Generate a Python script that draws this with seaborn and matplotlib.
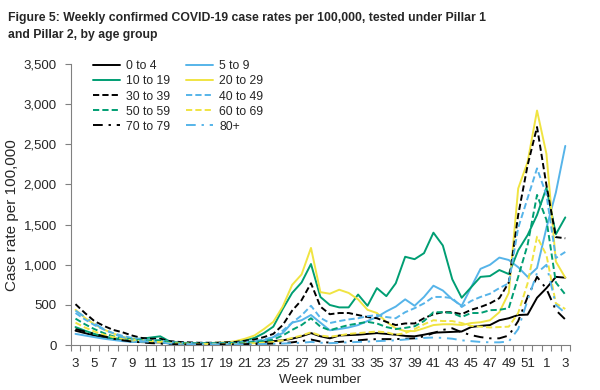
import numpy as np
import pandas as pd
import matplotlib
matplotlib.use('Agg')
import matplotlib.pyplot as plt
import seaborn as sns

# week numbers, 2021 week 3 to 2022 week 3
weeks = [3, 4, 5, 6, 7, 8, 9, 10, 11, 12,
         13, 14, 15, 16, 17, 18, 19, 20, 21, 22,
         23, 24, 25, 26, 27, 28, 29, 30, 31, 32,
         33, 34, 35, 36, 37, 38, 39, 40, 41, 42,
         43, 44, 45, 46, 47, 48, 49, 50, 51, 52,
         1, 2, 3]

age_0_4 = [180, 150, 120, 95, 75, 60, 45, 38, 35, 35,
           22, 20, 18, 18, 18, 18, 20, 22, 25, 30,
           40, 50, 60, 80, 110, 150, 110, 85, 120, 125,
           130, 140, 150, 140, 130, 115, 110, 130, 155, 160,
           165, 170, 225, 240, 250, 310, 335, 375, 380, 590,
           710, 850, 840]
age_5_9 = [140, 120, 100, 80, 65, 50, 40, 40, 45, 50,
           22, 18, 15, 15, 15, 15, 18, 20, 30, 40,
           60, 100, 150, 280, 310, 375, 280, 185, 200, 220,
           250, 300, 350, 420, 480, 570, 490, 600, 740, 680,
           570, 490, 720, 950, 1000, 1090, 1060, 970, 850, 960,
           1460, 1900, 2480]
age_10_19 = [225, 180, 140, 110, 85, 80, 80, 80, 95, 110,
             45, 30, 25, 25, 25, 25, 30, 40, 60, 90,
             150, 230, 450, 650, 780, 1010, 600, 500, 470, 470,
             630, 490, 710, 610, 770, 1100, 1070, 1145, 1400, 1240,
             820, 590, 720, 850, 860, 935, 885, 1180, 1370, 1620,
             1960, 1380, 1590]
age_20_29 = [440, 340, 260, 195, 145, 105, 75, 60, 55, 50,
             35, 30, 25, 25, 25, 30, 35, 50, 80, 120,
             200, 290, 480, 750, 880, 1210, 660, 640, 690, 650,
             570, 440, 400, 290, 210, 175, 175, 210, 250, 260,
             260, 250, 275, 285, 310, 410, 650, 1950, 2280, 2920,
             2380, 1040, 840]
age_30_39 = [510, 400, 300, 240, 190, 160, 120, 90, 80, 80,
             50, 40, 35, 30, 30, 30, 35, 40, 55, 70,
             100, 140, 250, 430, 560, 770, 480, 385, 400, 400,
             375, 350, 335, 290, 250, 270, 270, 335, 385, 410,
             410, 385, 440, 475, 520, 585, 780, 1620, 2240, 2715,
             1990, 1345, 1330]
age_40_49 = [400, 320, 250, 195, 150, 115, 90, 70, 60, 60,
             40, 30, 28, 25, 25, 25, 28, 30, 40, 50,
             70, 100, 180, 280, 370, 490, 340, 275, 300, 320,
             335, 360, 375, 350, 335, 410, 460, 520, 600, 600,
             585, 475, 550, 600, 640, 710, 770, 1460, 1830, 2200,
             1870, 1085, 1160]
age_50_59 = [330, 260, 200, 150, 110, 90, 70, 60, 55, 60,
             35, 28, 25, 22, 22, 22, 22, 25, 30, 40,
             50, 70, 120, 190, 250, 335, 230, 185, 220, 250,
             270, 290, 270, 225, 200, 215, 235, 300, 410, 410,
             400, 350, 400, 400, 435, 440, 460, 850, 1250, 1870,
             1560, 780, 630]
age_60_69 = [280, 220, 170, 130, 100, 80, 60, 50, 40, 40,
             25, 20, 18, 15, 15, 15, 15, 15, 20, 25,
             30, 40, 60, 90, 120, 160, 120, 105, 120, 140,
             150, 160, 170, 160, 130, 150, 200, 260, 310, 300,
             300, 275, 240, 230, 220, 225, 230, 400, 770, 1350,
             1120, 520, 450]
age_70_79 = [200, 170, 140, 110, 80, 60, 45, 35, 25, 20,
             12, 10, 10, 10, 10, 10, 10, 10, 12, 14,
             16, 20, 25, 35, 50, 70, 45, 30, 40, 50,
             60, 70, 75, 75, 75, 80, 85, 110, 150, 190,
             210, 160, 125, 100, 85, 85, 120, 300, 600, 850,
             700, 435, 320]
age_80_plus = [430, 350, 270, 200, 140, 100, 70, 50, 40, 35,
               20, 15, 12, 10, 10, 10, 10, 10, 10, 12,
               14, 16, 20, 25, 30, 40, 30, 25, 30, 35,
               40, 45, 50, 55, 60, 70, 80, 90, 95, 90,
               80, 60, 50, 40, 35, 35, 45, 200, 560, 900,
               1000, 500, 400]

groups = ['0 to 4', '5 to 9', '10 to 19', '20 to 29', '30 to 39',
          '40 to 49', '50 to 59', '60 to 69', '70 to 79', '80+']
series = [age_0_4, age_5_9, age_10_19, age_20_29, age_30_39,
          age_40_49, age_50_59, age_60_69, age_70_79, age_80_plus]

black, blue, green, yellow = '#000000', '#56B4E9', '#009E73', '#F0E442'
dash = (0, (3.2, 1.6))
dashdot = (0, (5, 3, 1.2, 3))
line_fmt = {
    '0 to 4': (black, '-'), '5 to 9': (blue, '-'),
    '10 to 19': (green, '-'), '20 to 29': (yellow, '-'),
    '30 to 39': (black, dash), '40 to 49': (blue, dash),
    '50 to 59': (green, dash), '60 to 69': (yellow, dash),
    '70 to 79': (black, dashdot), '80+': (blue, dashdot),
}

df = pd.DataFrame(dict(zip(groups, series)))
df['pos'] = range(len(weeks))

sns.set_theme(style='white')
plt.rcParams['font.family'] = ['Liberation Sans', 'DejaVu Sans']

fig = plt.figure(figsize=(6, 3.9), dpi=100)
ax = fig.add_axes([0.118, 0.115, 0.832, 0.721])

for g in groups:
    col, ls = line_fmt[g]
    sns.lineplot(data=df, x='pos', y=g, ax=ax, color=col, linestyle=ls,
                 linewidth=1.4, label=g)

ax.set_xlim(-0.5, len(weeks) - 0.5)
ax.set_ylim(0, 3500)
ax.set_xticks(range(0, len(weeks), 2))
ax.set_xticklabels([str(w) for w in weeks[::2]])
ax.set_xticks(np.arange(-0.5, len(weeks), 1), minor=True)
ax.tick_params(axis='x', which='major', length=0, pad=9, labelsize=9.5)
ax.tick_params(axis='x', which='minor', length=4, width=0.8, color='#808080',
               direction='out', bottom=True)
ax.set_yticks(range(0, 3501, 500))
ax.set_yticklabels([f'{v:,}' for v in range(0, 3501, 500)])
ax.tick_params(axis='y', length=4, width=0.8, color='#808080',
               direction='out', left=True, pad=6, labelsize=9.5)

for s in ['top', 'right']:
    ax.spines[s].set_visible(False)
for s in ['left', 'bottom']:
    ax.spines[s].set_color('#808080')
    ax.spines[s].set_linewidth(0.8)

ax.set_xlabel('Week number', fontsize=9.5, labelpad=3)
ax.set_ylabel('Case rate per 100,000', fontsize=11)
ax.yaxis.set_label_coords(-0.104, 0.463)

# legend reads row by row in the original
handles, labels = ax.get_legend_handles_labels()
order = [0, 2, 4, 6, 8, 1, 3, 5, 7, 9]
ax.legend([handles[i] for i in order], [labels[i] for i in order],
          ncol=2, frameon=False, fontsize=8.8, loc='upper left',
          bbox_to_anchor=(0.035, 1.03), handlelength=2.2, handletextpad=0.5,
          columnspacing=1.3, labelspacing=0.25, borderaxespad=0)

fig.text(0.013, 0.932, 'Figure 5: Weekly confirmed COVID-19 case rates per 100,000, tested under Pillar 1\nand Pillar 2, by age group',
         fontsize=8.8, fontweight='bold', ha='left', va='center', linespacing=1.6)

fig.savefig('out.png', dpi=100, facecolor='white')
